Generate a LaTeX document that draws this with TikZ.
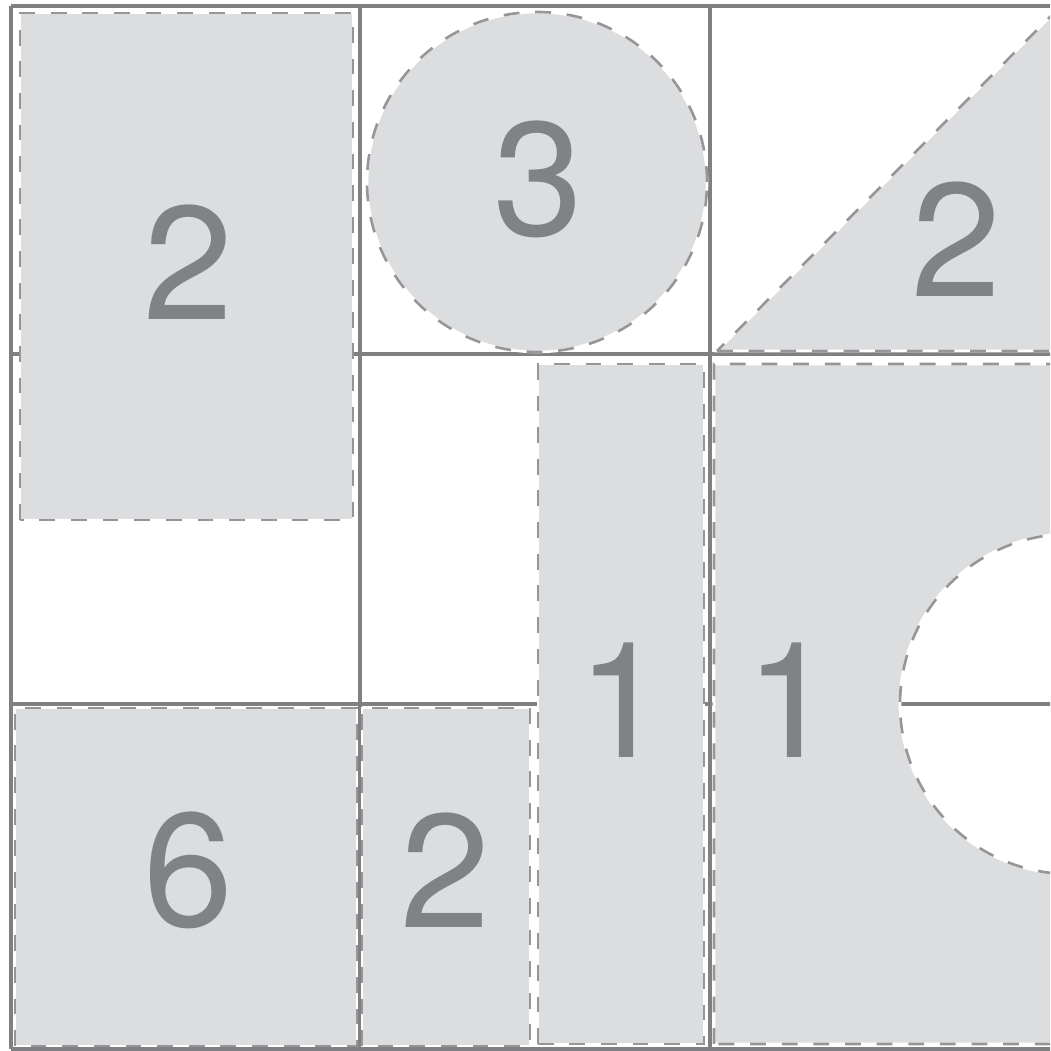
\documentclass[tikz,border=0pt]{standalone}
\usepackage{fontspec}
\setmainfont{TeX Gyre Heros}
\definecolor{gridgray}{RGB}{128,128,130}
\definecolor{dashgray}{RGB}{150,150,152}
\definecolor{piecegray}{RGB}{220,221,223}
\definecolor{numgray}{RGB}{128,130,133}
\begin{document}
\begin{tikzpicture}[
    gridline/.style={draw=gridgray, line width=1pt},
    piece/.style={fill=piecegray, draw=white, line width=.75pt,
        postaction={draw=dashgray, line width=.75pt, dash pattern=on 4.5pt off 4.5pt}},
    num/.style={text=numgray, font=\fontsize{46}{46}\selectfont, inner sep=0pt}]
    \useasboundingbox (0,0) rectangle (10.50,10.51);
    \clip (0,0) rectangle (10.50,10.51);
    % grid
    \foreach \x in {0.11,3.60,7.10,10.60}
        \draw[gridline] (\x,0.02) -- (\x,10.45);
    \foreach \y in {0.02,3.47,6.97,10.45}
        \draw[gridline] (0.11,\y) -- (10.60,\y);
    % pieces
    \path[piece] (0.20,5.31) rectangle (3.53,10.38);
    \path[piece] (5.37,8.69) circle (1.70);
    \path[piece] (7.17,7.00) -- (10.53,7.00) -- (10.53,10.37) -- cycle;
    \path[piece] (5.38,0.07) rectangle (7.04,6.87);
    \path[piece] (7.14,0.07) -- (7.14,6.87) -- (10.70,6.87) -- (10.70,5.17)
        arc (90:270:1.70) -- (10.70,0.07) -- cycle;
    \path[piece] (0.15,0.05) rectangle (3.57,3.43);
    \path[piece] (3.62,0.05) rectangle (5.30,3.43);
    % numbers
    \node[num] (numA) at (1.88,7.89) {2};
    \node[num] (numB) at (5.38,8.72) {3};
    \node[num] (numC) at (9.56,8.12) {2};
    \node[num] (numD) at (6.22,3.51) {1};
    \node[num] (numE) at (7.90,3.51) {1};
    \node[num] (numF) at (1.88,1.81) {6};
    \node[num] (numG) at (4.45,1.81) {2};
\end{tikzpicture}
\end{document}
